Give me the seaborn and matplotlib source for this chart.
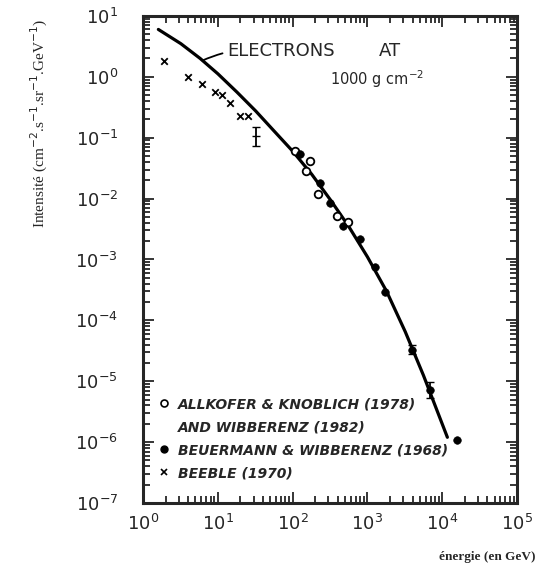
import numpy as np
import pandas as pd
import matplotlib
matplotlib.use("Agg")
import matplotlib.pyplot as plt
from matplotlib.lines import Line2D
import seaborn as sns

# curve: electrons at 1000 g cm-2
curve_energy = [1.6, 3.2, 5.8, 10, 18, 32, 56, 100, 180, 320, 560, 1000, 1800, 3200, 5600, 11700]
curve_intensity = [6.0, 3.5, 2.0, 1.12, 0.56, 0.275, 0.13, 0.060, 0.025, 9.5e-3, 3.5e-3,
                   1.1e-3, 3.0e-4, 6.5e-5, 1.25e-5, 1.2e-6]

# Beedle (1970) crosses
beedle_energy = [1.9, 4.0, 6.2, 9.1, 11.5, 14.5, 20, 25]
beedle_intensity = [1.8, 1.0, 0.76, 0.56, 0.50, 0.37, 0.23, 0.23]

# single point with error bar
bar_energy = [32]
bar_intensity = [0.105]
bar_low = [0.074]
bar_high = [0.148]

# Allkofer & Knoblich (1978) / Wibberenz (1982) open circles
allk_energy = [107, 170, 151, 219, 389, 550]
allk_intensity = [0.060, 0.041, 0.028, 0.0117, 5.2e-3, 4.2e-3]

# Beuermann & Wibberenz (1968) filled circles
beu_energy = [126, 234, 316, 468, 794, 1260, 1740, 3980, 6920, 15800]
beu_intensity = [0.054, 0.018, 8.5e-3, 3.5e-3, 2.2e-3, 7.6e-4, 2.9e-4, 3.3e-5, 7.2e-6, 1.07e-6]
beu_err_energy = [3980, 6920]
beu_err_intensity = [3.3e-5, 7.2e-6]
beu_err_low = [2.75e-5, 5.3e-6]
beu_err_high = [4.0e-5, 9.7e-6]

sns.set_style("ticks")
plt.rcParams['font.family'] = ['DejaVu Sans']

fig = plt.figure(figsize=(5.42, 5.69), dpi=100)
ax = fig.add_axes([0.264, 0.116, 0.690, 0.856])

curve_df = pd.DataFrame({'E': curve_energy, 'I': curve_intensity})
sns.lineplot(data=curve_df, x='E', y='I', ax=ax, color='black', linewidth=2.3, sort=False)

sns.scatterplot(x=beedle_energy, y=beedle_intensity, ax=ax, marker='x', s=22,
                color='black', linewidth=1.3)
sns.scatterplot(x=allk_energy, y=allk_intensity, ax=ax, marker='o', s=30,
                facecolor='white', edgecolor='black', linewidth=1.3, zorder=3)
sns.scatterplot(x=beu_energy, y=beu_intensity, ax=ax, marker='o', s=30,
                color='black', edgecolor='black', zorder=3)

ax.errorbar(bar_energy, bar_intensity,
            yerr=[np.array(bar_intensity) - np.array(bar_low),
                  np.array(bar_high) - np.array(bar_intensity)],
            fmt='_', color='black', capsize=3, elinewidth=1.3, markersize=6)
ax.errorbar(beu_err_energy, beu_err_intensity,
            yerr=[np.array(beu_err_intensity) - np.array(beu_err_low),
                  np.array(beu_err_high) - np.array(beu_err_intensity)],
            fmt='none', color='black', capsize=3, elinewidth=1.3)

ax.set(xscale='log', yscale='log')
ax.set_xlim(1, 1e5)
ax.set_ylim(1e-7, 1e1)
ax.set_xticks([10.0 ** k for k in range(0, 6)])
ax.set_yticks([10.0 ** k for k in range(-7, 2)])
ax.tick_params(which='both', direction='in', top=True, right=True, width=1.3)
ax.tick_params(which='major', length=8, labelsize=13)
ax.tick_params(axis='x', which='major', pad=8)
ax.tick_params(axis='y', which='major', pad=18)
ax.tick_params(which='minor', length=5)
for s in ax.spines.values():
    s.set_linewidth(2.2)

ax.set_xlabel('énergie (en GeV)', family='Liberation Serif', fontsize=9.5, fontweight='bold')
ax.xaxis.set_label_coords(0.92, -0.099)
ax.set_ylabel('Intensité (cm$^{-2}$.s$^{-1}$.sr$^{-1}$.GeV$^{-1}$)', family='Liberation Serif',
              fontsize=11)
ax.yaxis.set_label_coords(-0.25, 0.78)

ax.annotate('ELECTRONS', xy=(6.2, 1.85), xytext=(13.3, 2.7), fontsize=13,
            va='center', ha='left',
            arrowprops=dict(arrowstyle='-', color='black', lw=1.3, shrinkA=1, shrinkB=0,
                            connectionstyle='arc3,rad=0.15'))
ax.text(2000, 2.7, 'AT', fontsize=13, ha='center', va='center')
ax.text(316, 0.9, '1000 g cm$^{-2}$', fontsize=10.5, ha='left', va='center')

handles = [
    Line2D([], [], marker='o', linestyle='none', mfc='white', mec='black', ms=5, mew=1.2),
    Line2D([], [], linestyle='none'),
    Line2D([], [], marker='o', linestyle='none', color='black', ms=5),
    Line2D([], [], marker='x', linestyle='none', color='black', ms=5, mew=1.2),
]
labels = ['ALLKOFER & KNOBLICH (1978)', 'AND WIBBERENZ (1982)',
          'BEUERMANN & WIBBERENZ (1968)', 'BEEBLE (1970)']
ax.legend(handles, labels, loc='lower left', bbox_to_anchor=(0.015, 0.027), frameon=False,
          prop=dict(style='italic', weight='bold', size=10), handlelength=0.8,
          handletextpad=0.6, labelspacing=0.65, borderaxespad=0.3)

fig.savefig('out.png', dpi=100)
